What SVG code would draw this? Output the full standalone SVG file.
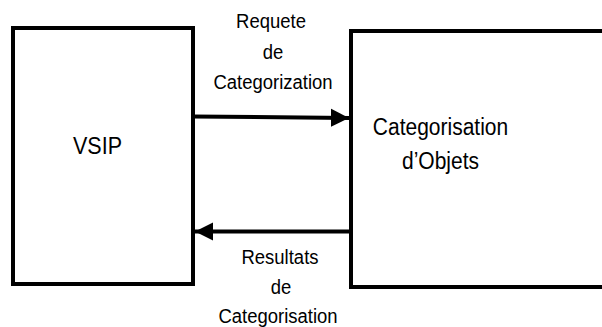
<svg xmlns="http://www.w3.org/2000/svg" width="602" height="327" viewBox="0 0 602 327">
<defs>
<style>
.box{fill:#fff;stroke:#000;stroke-width:4}
.lbl{font-family:"Liberation Sans",Arial,sans-serif;fill:#000;text-anchor:middle}
.edge{stroke:#000;stroke-width:4;fill:none}
</style>
<marker id="ah" viewBox="0 0 10 10" refX="10" refY="5" markerWidth="4.6" markerHeight="5" markerUnits="strokeWidth" orient="auto">
<path d="M0,0 L10,5 L0,10 Z" fill="#000"/>
</marker>
</defs>
<rect width="602" height="327" fill="#fff"/>
<g id="vsip">
<rect class="box" x="13" y="28" width="180" height="256"/>
<text class="lbl" transform="translate(97.5,154) scale(1,1.1)" font-size="21.5">VSIP</text>
</g>
<g id="categorisation">
<rect class="box" x="351" y="31" width="260" height="256"/>
<text class="lbl" transform="translate(440.5,135) scale(1,1.1)" font-size="21">Categorisation</text>
<text class="lbl" transform="translate(440.5,169) scale(1,1.1)" font-size="21">d’Objets</text>
</g>
<g id="connectors">
<line class="edge" x1="193" y1="116.5" x2="349" y2="118" marker-end="url(#ah)"/>
<line class="edge" x1="351" y1="231.5" x2="195" y2="231.5" marker-end="url(#ah)"/>
</g>
<g id="labels">
<text class="lbl" transform="translate(271,28) scale(1,1.1)" font-size="18.5">Requete</text>
<text class="lbl" transform="translate(273,59) scale(1,1.1)" font-size="18.5">de</text>
<text class="lbl" transform="translate(273,89) scale(1,1.1)" font-size="18.5">Categorization</text>
<text class="lbl" transform="translate(280,264) scale(1,1.1)" font-size="18.5">Resultats</text>
<text class="lbl" transform="translate(281,294) scale(1,1.1)" font-size="18.5">de</text>
<text class="lbl" transform="translate(278,323) scale(1,1.1)" font-size="18.5">Categorisation</text>
</g>
</svg>
